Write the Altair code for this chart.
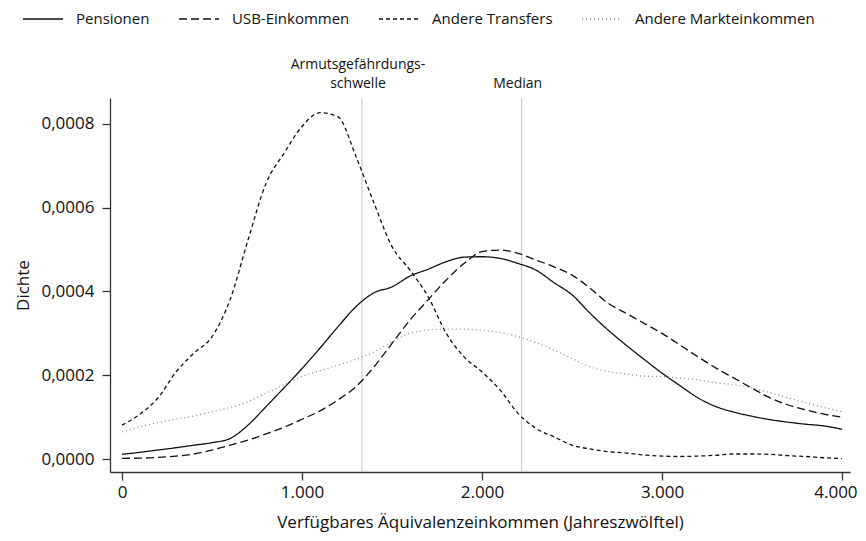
import altair as alt
import pandas as pd

# ---- data ----
series_names = ["Pensionen", "USB-Einkommen", "Andere Transfers", "Andere Markteinkommen"]

income = list(range(0, 4001, 100))

pensionen = [0.0000112, 0.000016, 0.0000215, 0.000027, 0.000033, 0.000039, 0.000049, 0.000081,
             0.000125, 0.000170, 0.000216, 0.000265, 0.000316, 0.000364, 0.000397, 0.000411,
             0.000437, 0.000453, 0.000471, 0.000482, 0.000483, 0.000479, 0.000467, 0.000451,
             0.000421, 0.000392, 0.000348, 0.000308, 0.000272, 0.000238, 0.000205, 0.000175,
             0.000146, 0.000125, 0.000112, 0.000102, 0.000094, 0.000088, 0.000083, 0.000079,
             0.000071]

usb_einkommen = [0.0000017, 0.000002, 0.000004, 0.000007, 0.000012, 0.0000215, 0.000033, 0.000045,
                 0.000060, 0.000076, 0.000095, 0.000115, 0.000141, 0.000173, 0.000220, 0.000276,
                 0.000332, 0.000380, 0.000427, 0.000467, 0.000495, 0.000499, 0.000491, 0.000475,
                 0.000459, 0.000439, 0.000408, 0.000372, 0.000348, 0.000324, 0.000300, 0.000272,
                 0.000244, 0.000217, 0.000193, 0.000169, 0.000146, 0.000129, 0.000117, 0.000107,
                 0.000100]

andere_transfers = [0.000081, 0.000107, 0.000146, 0.000208, 0.000253, 0.000292, 0.000380, 0.000523,
                    0.000658, 0.000730, 0.000794, 0.000827, 0.000817, 0.000722, 0.000611, 0.000507,
                    0.000451, 0.000388, 0.000301, 0.000244, 0.000208, 0.000165, 0.000109, 0.000073,
                    0.000053, 0.000033, 0.000024, 0.0000175, 0.0000143, 0.0000096, 0.000007, 0.000006,
                    0.000007, 0.000009, 0.000012, 0.000012, 0.000011, 0.000008, 0.000006, 0.000003,
                    0.000001]

andere_markteinkommen = [0.000065, 0.000077, 0.000087, 0.000095, 0.000103, 0.000113, 0.000123, 0.000137,
                         0.000157, 0.000177, 0.000197, 0.000211, 0.000224, 0.000238, 0.000256, 0.000280,
                         0.000300, 0.000308, 0.000310, 0.000310, 0.000307, 0.000302, 0.000292, 0.000278,
                         0.000260, 0.000240, 0.000220, 0.000209, 0.000203, 0.000198, 0.000197, 0.000193,
                         0.000189, 0.000182, 0.000177, 0.000169, 0.000158, 0.000146, 0.000134, 0.000123,
                         0.000113]

ref_values = [1333, 2220]

# reference-line labels, one row per text line
label_at = [1333, 1333, 2220]
label_text = ["Armutsgefährdungs-", "schwelle", "Median"]
label_row = [1, 2, 2]

x_ticks = [0, 1000, 2000, 3000, 4000]
y_ticks = [0, 0.0002, 0.0004, 0.0006, 0.0008]

# ---- tables ----
all_series = [pensionen, usb_einkommen, andere_transfers, andere_markteinkommen]
rows = []
for name, vals in zip(series_names, all_series):
    for xv, yv in zip(income, vals):
        rows.append({"x": xv, "y": yv, "serie": name})
df = pd.DataFrame(rows)
ref_df = pd.DataFrame({"x": ref_values})
lab_df = pd.DataFrame({"x": label_at, "label": label_text, "row": label_row})

FONT = "Open Sans"

x_enc = alt.X(
    "x:Q",
    scale=alt.Scale(domain=[-66.7, 4044], nice=False, zero=False),
    axis=alt.Axis(values=x_ticks,
                  labelExpr="replace(format(datum.value, ',.0f'), ',', '.')",
                  labelFlush=10, labelFlushOffset=15,
                  title="Verfügbares Äquivalenzeinkommen (Jahreszwölftel)"),
)
y_enc = alt.Y(
    "y:Q",
    scale=alt.Scale(domain=[-0.000031, 0.000862], nice=False, zero=False),
    axis=alt.Axis(values=y_ticks,
                  labelExpr="replace(format(datum.value, '.4f'), '.', ',')",
                  title="Dichte"),
)

legend = alt.Legend(
    title=None, orient="none", legendX=-88, legendY=-100, direction="horizontal",
    symbolType="stroke", symbolSize=1600, symbolStrokeWidth=1.3,
    labelFont=FONT, labelFontSize=15, labelColor="#111", labelOffset=12,
    columnPadding=26, labelLimit=400, padding=0,
)

rules = alt.Chart(ref_df).mark_rule(color="#c4c4c4", strokeWidth=1).encode(x=alt.X("x:Q"))

lines = alt.Chart(df).mark_line(strokeWidth=1.3, interpolate="monotone").encode(
    x=x_enc,
    y=y_enc,
    color=alt.Color("serie:N", scale=alt.Scale(domain=series_names,
                                               range=["#111111", "#111111", "#111111", "#8a8a8a"]),
                    legend=legend),
    strokeDash=alt.StrokeDash("serie:N", scale=alt.Scale(domain=series_names,
                                                         range=[[1, 0], [8, 4], [4, 3], [1, 3]]),
                              legend=legend),
)

label_style = dict(font=FONT, fontSize=14, baseline="top", dx=-4, color="#111")

labels_row1 = alt.Chart(lab_df).transform_filter(
    alt.datum.row == 1
).mark_text(**label_style).encode(x=alt.X("x:Q"), y=alt.value(-40), text="label:N")

labels_row2 = alt.Chart(lab_df).transform_filter(
    alt.datum.row == 2
).mark_text(**label_style).encode(x=alt.X("x:Q"), y=alt.value(-21), text="label:N")

chart = alt.layer(rules, lines, labels_row1, labels_row2).properties(
    width=740, height=374,
    autosize=alt.AutoSizeParams(type="none"),
    padding={"left": 102, "top": 90, "right": 8, "bottom": 66},
).configure_axis(
    grid=False, domainColor="#333333", domainWidth=1.3, tickColor="#333333", tickWidth=1.3,
    labelFont=FONT, labelFontSize=17, labelColor="#111",
    titleFont=FONT, titleFontSize=17, titleFontWeight="normal", titleColor="#111",
).configure_axisY(
    tickSize=8, labelPadding=8, titlePadding=8,
).configure_axisX(
    tickSize=8, labelPadding=4, titlePadding=14,
).configure_view(stroke=None)

chart.save("out.html", embed_options={"renderer": "svg", "actions": False})
